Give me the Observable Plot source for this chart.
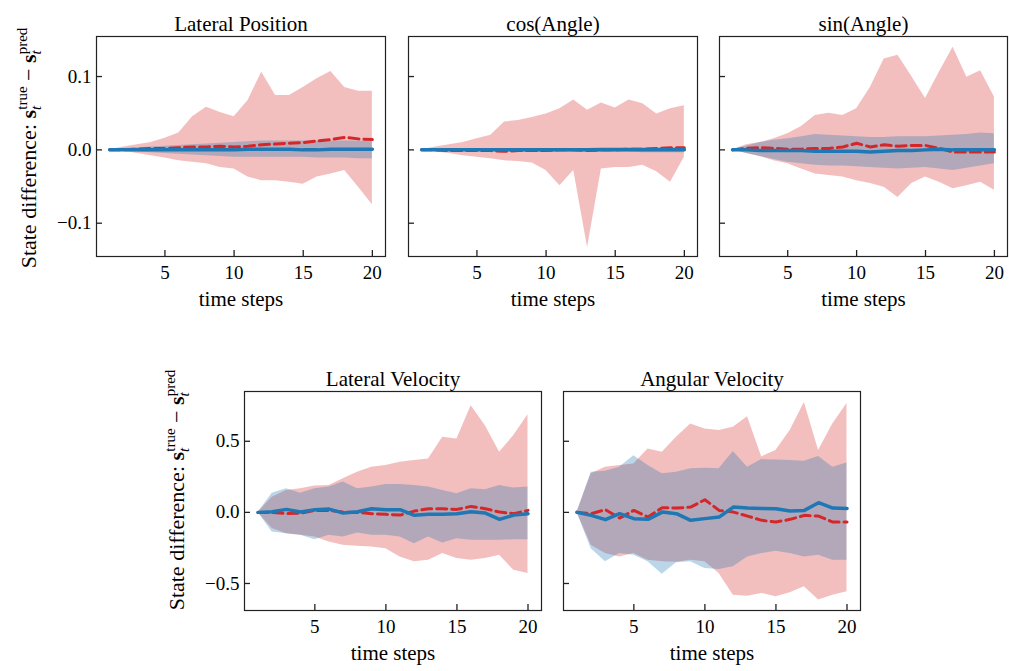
<!DOCTYPE html>
<html><head><meta charset="utf-8">
<script src="https://cdn.jsdelivr.net/npm/d3@7"></script>
<script src="https://cdn.jsdelivr.net/npm/@observablehq/plot@0.6"></script>
<style>
html,body{margin:0;padding:0;background:#fff;overflow:hidden}
#fig{position:relative;width:1009px;height:671px;font-family:"Liberation Serif","Times New Roman",serif}
#fig svg{position:absolute;overflow:visible;background:none}
</style></head><body><div id="fig"></div>
<script>
// ---------- data ----------
const steps = [1,2,3,4,5,6,7,8,9,10,11,12,13,14,15,16,17,18,19,20];
const xTicks = [5,10,15,20];
const topYTicks = [-0.1, 0, 0.1];
const bottomYTicks = [-0.5, 0, 0.5];
const titles = ["Lateral Position","cos(Angle)","sin(Angle)","Lateral Velocity","Angular Velocity"];

// Lateral Position
const latPosRedHi   = [0,0.004,0.007,0.010,0.016,0.023,0.045,0.058,0.051,0.045,0.067,0.106,0.074,0.074,0.085,0.097,0.107,0.085,0.080,0.080];
const latPosRedLo   = [0,-0.002,-0.005,-0.008,-0.011,-0.015,-0.017,-0.019,-0.024,-0.026,-0.037,-0.042,-0.042,-0.044,-0.047,-0.037,-0.033,-0.028,-0.051,-0.075];
const latPosRedMean = [0,0,0.001,0.002,0.002,0.003,0.004,0.004,0.005,0.004,0.005,0.007,0.008,0.009,0.010,0.012,0.014,0.017,0.015,0.014];
const latPosBlueHi  = [0,0.002,0.003,0.004,0.005,0.006,0.007,0.008,0.009,0.010,0.011,0.012,0.012,0.012,0.012,0.012,0.012,0.012,0.012,0.011];
const latPosBlueLo  = [0,-0.002,-0.003,-0.004,-0.005,-0.006,-0.007,-0.008,-0.009,-0.010,-0.010,-0.010,-0.010,-0.010,-0.010,-0.011,-0.011,-0.011,-0.012,-0.012];
const latPosBlueMean= [0,0,0,0,0,0,0,0,0,0,0.001,0.001,0.001,0.001,0,0,0.001,0.001,0.001,0.001];

// cos(Angle)
const cosRedHi   = [0,0.004,0.007,0.010,0.015,0.020,0.038,0.040,0.044,0.049,0.056,0.068,0.054,0.064,0.057,0.068,0.063,0.049,0.056,0.060];
const cosRedLo   = [0,-0.003,-0.005,-0.008,-0.010,-0.012,-0.015,-0.016,-0.018,-0.028,-0.049,-0.028,-0.133,-0.026,-0.024,-0.024,-0.021,-0.030,-0.044,-0.010];
const cosRedMean = [0,0,-0.001,-0.001,-0.001,-0.001,-0.002,-0.001,-0.001,-0.001,0,0,-0.001,0,0,0.001,0.001,0.002,0.003,0.003];
const cosBlueHi  = [0,0.001,0.001,0.002,0.002,0.002,0.002,0.002,0.002,0.002,0.002,0.002,0.002,0.003,0.003,0.003,0.003,0.003,0.003,0.003];
const cosBlueLo  = [0,-0.001,-0.002,-0.002,-0.002,-0.002,-0.003,-0.003,-0.003,-0.003,-0.003,-0.003,-0.003,-0.003,-0.003,-0.003,-0.004,-0.004,-0.004,-0.004];
const cosBlueMean= [0,0,0,0,0,0,0,0,0,0,0,0,0,0,0,0,0,0,0,0];

// sin(Angle)
const sinRedHi   = [0,0.007,0.010,0.015,0.022,0.032,0.047,0.050,0.047,0.056,0.085,0.124,0.129,0.100,0.070,0.106,0.140,0.099,0.108,0.072];
const sinRedLo   = [0,-0.005,-0.009,-0.015,-0.019,-0.026,-0.033,-0.035,-0.037,-0.042,-0.046,-0.051,-0.065,-0.046,-0.037,-0.044,-0.053,-0.049,-0.044,-0.055];
const sinRedMean = [0,0.002,0.003,0.002,0.001,0.001,0.002,0.002,0.004,0.009,0.004,0.007,0.005,0.006,0.006,0.002,-0.003,-0.003,-0.003,-0.003];
const sinBlueHi  = [0,0.005,0.010,0.013,0.015,0.018,0.021,0.020,0.019,0.018,0.017,0.017,0.018,0.018,0.018,0.019,0.020,0.021,0.023,0.022];
const sinBlueLo  = [0,-0.005,-0.009,-0.013,-0.017,-0.019,-0.021,-0.022,-0.022,-0.023,-0.024,-0.025,-0.026,-0.025,-0.024,-0.026,-0.028,-0.025,-0.022,-0.019];
const sinBlueMean= [0,0,-0.001,-0.001,-0.001,-0.001,-0.002,-0.002,-0.002,-0.002,-0.003,-0.002,-0.001,-0.001,0,0.001,0,0,0,0];

// Lateral Velocity
const latVelRedHi   = [0,0.107,0.154,0.166,0.185,0.189,0.236,0.283,0.318,0.329,0.353,0.364,0.376,0.528,0.516,0.750,0.610,0.423,0.540,0.687];
const latVelRedLo   = [0,-0.114,-0.150,-0.161,-0.173,-0.208,-0.231,-0.238,-0.243,-0.255,-0.313,-0.348,-0.336,-0.290,-0.325,-0.336,-0.325,-0.301,-0.407,-0.430];
const latVelRedMean = [0,0,-0.009,-0.005,0.014,0.014,0.002,0,-0.009,-0.014,-0.019,0.009,0.026,0.026,0.021,0.042,0.026,0.002,-0.009,0.014];
const latVelBlueHi  = [0,0.135,0.166,0.135,0.166,0.178,0.213,0.166,0.178,0.196,0.196,0.189,0.178,0.154,0.131,0.166,0.159,0.189,0.171,0.178];
const latVelBlueLo  = [0,-0.138,-0.150,-0.161,-0.192,-0.161,-0.173,-0.145,-0.161,-0.161,-0.173,-0.220,-0.173,-0.215,-0.185,-0.196,-0.196,-0.196,-0.192,-0.192];
const latVelBlueMean= [0,0.005,0.021,0.002,0.019,0.023,-0.005,0.005,0.026,0.019,0.019,-0.021,-0.014,-0.014,-0.009,0.005,-0.005,-0.049,-0.019,-0.009];

// Angular Velocity
const angVelRedHi   = [0,0.271,0.318,0.329,0.341,0.446,0.423,0.528,0.621,0.586,0.575,0.598,0.673,0.390,0.435,0.575,0.773,0.435,0.621,0.766];
const angVelRedLo   = [0,-0.231,-0.290,-0.313,-0.290,-0.336,-0.348,-0.350,-0.336,-0.348,-0.430,-0.582,-0.589,-0.570,-0.593,-0.565,-0.523,-0.617,-0.582,-0.558];
const angVelRedMean = [0,-0.009,0.019,-0.040,0.014,-0.033,0.033,0.030,0.037,0.089,0.014,0.002,-0.026,-0.056,-0.068,-0.049,-0.021,-0.026,-0.068,-0.068];
const angVelBlueHi  = [0,0.283,0.290,0.318,0.399,0.329,0.271,0.283,0.306,0.311,0.306,0.428,0.318,0.371,0.369,0.364,0.360,0.393,0.318,0.348];
const angVelBlueLo  = [0,-0.255,-0.348,-0.290,-0.301,-0.348,-0.435,-0.355,-0.348,-0.395,-0.402,-0.383,-0.313,-0.290,-0.273,-0.290,-0.313,-0.301,-0.336,-0.336];
const angVelBlueMean= [0,-0.021,-0.051,-0.009,-0.044,-0.049,0.002,-0.009,-0.056,-0.044,-0.033,0.037,0.030,0.028,0.026,0.009,0.014,0.068,0.030,0.028];

// ---------- layout ----------
const RED = "#d62728", BLUE = "#1f77b4", INK = "#222";
const xDomain = [0.05, 20.95];
const topYDomain = [-0.1454, 0.1546];
const bottomYDomain = [-0.69, 0.85];

const panels = [
  {title: titles[0], s: [latPosRedHi, latPosRedLo, latPosRedMean, latPosBlueHi, latPosBlueLo, latPosBlueMean], fx: 96, fy: 36, fw: 289, fh: 220, yd: topYDomain, yt: topYTicks, showY: true, svgLeft: 0, labelX: 36, labelY: 148},
  {title: titles[1], s: [cosRedHi, cosRedLo, cosRedMean, cosBlueHi, cosBlueLo, cosBlueMean], fx: 408, fy: 36, fw: 289, fh: 220, yd: topYDomain, yt: topYTicks, showY: false},
  {title: titles[2], s: [sinRedHi, sinRedLo, sinRedMean, sinBlueHi, sinBlueLo, sinBlueMean], fx: 719, fy: 36, fw: 288, fh: 220, yd: topYDomain, yt: topYTicks, showY: false, mr: 2},
  {title: titles[3], s: [latVelRedHi, latVelRedLo, latVelRedMean, latVelBlueHi, latVelBlueLo, latVelBlueMean], fx: 244, fy: 391, fw: 297, fh: 219, yd: bottomYDomain, yt: bottomYTicks, showY: true, svgLeft: 150, labelX: 184, labelY: 490},
  {title: titles[4], s: [angVelRedHi, angVelRedLo, angVelRedMean, angVelBlueHi, angVelBlueLo, angVelBlueMean], fx: 563, fy: 391, fw: 297, fh: 219, yd: bottomYDomain, yt: bottomYTicks, showY: false}
];

const fig = document.getElementById("fig");
const mt = 36, mb = 62;

for (const p of panels) {
  const svgLeft = p.showY ? p.svgLeft : p.fx - 10;
  const ml = p.fx - svgLeft;
  const mr = p.mr ?? 10;
  const W = ml + p.fw + mr, H = mt + p.fh + mb;
  const [rh, rl, rm, bh, bl, bm] = p.s;
  const data = steps.map((t, i) => ({t, rh: rh[i], rl: rl[i], rm: rm[i], bh: bh[i], bl: bl[i], bm: bm[i]}));
  const svg = Plot.plot({
    width: W, height: H,
    marginLeft: ml, marginRight: mr, marginTop: mt, marginBottom: mb,
    style: {fontFamily: '"Liberation Serif","Times New Roman",serif', fontSize: "19px", background: "none", overflow: "visible", color: "#000"},
    x: {domain: xDomain, axis: null},
    y: {domain: p.yd, axis: null},
    marks: [
      Plot.areaY(data, {x: "t", y1: "rl", y2: "rh", fill: RED, fillOpacity: 0.3}),
      Plot.areaY(data, {x: "t", y1: "bl", y2: "bh", fill: BLUE, fillOpacity: 0.3}),
      Plot.lineY(data, {x: "t", y: "rm", stroke: RED, strokeWidth: 3, strokeDasharray: "10,5"}),
      Plot.lineY(data, {x: "t", y: "bm", stroke: BLUE, strokeWidth: 3.5}),
      Plot.tickY(p.yt, {y: d => d, insetRight: p.fw - 6, stroke: INK, strokeWidth: 1.3}),
      Plot.tickX(xTicks, {x: d => d, insetTop: p.fh - 6, stroke: INK, strokeWidth: 1.3}),
      Plot.axisX(xTicks, {tickSize: 0, tickPadding: 9, fontSize: 19, label: null, tickFormat: d3.format("d")}),
      p.showY ? Plot.axisY(p.yt, {tickSize: 0, tickPadding: 5, fontSize: 19, label: null, tickFormat: d3.format(".1f")}) : null,
      Plot.frame({stroke: INK, strokeWidth: 1.2}),
      Plot.text([p.title], {frameAnchor: "top", dy: -20, fontSize: 21}),
      Plot.text(["time steps"], {frameAnchor: "bottom", dy: 49, fontSize: 21})
    ]
  });
  svg.style.left = svgLeft + "px";
  svg.style.top = (p.fy - mt) + "px";
  fig.appendChild(svg);

  if (p.showY) {
    const t = d3.select(svg).append("text")
      .attr("transform", `translate(${p.labelX - svgLeft},${p.labelY - (p.fy - mt)}) rotate(-90)`)
      .attr("text-anchor", "middle").attr("font-size", 22).attr("fill", "#000");
    t.append("tspan").text("State difference: ");
    t.append("tspan").attr("font-weight", "bold").text("s");
    t.append("tspan").attr("font-size", 15).attr("font-style", "italic").attr("dy", 5).text("t");
    t.append("tspan").attr("font-size", 15).attr("dx", -4).attr("dy", -14).text("true");
    t.append("tspan").attr("dy", 9).text(" − ");
    t.append("tspan").attr("font-weight", "bold").text("s");
    t.append("tspan").attr("font-size", 15).attr("font-style", "italic").attr("dy", 5).text("t");
    t.append("tspan").attr("font-size", 15).attr("dx", -4).attr("dy", -14).text("pred");
  }
}
</script></body></html>
